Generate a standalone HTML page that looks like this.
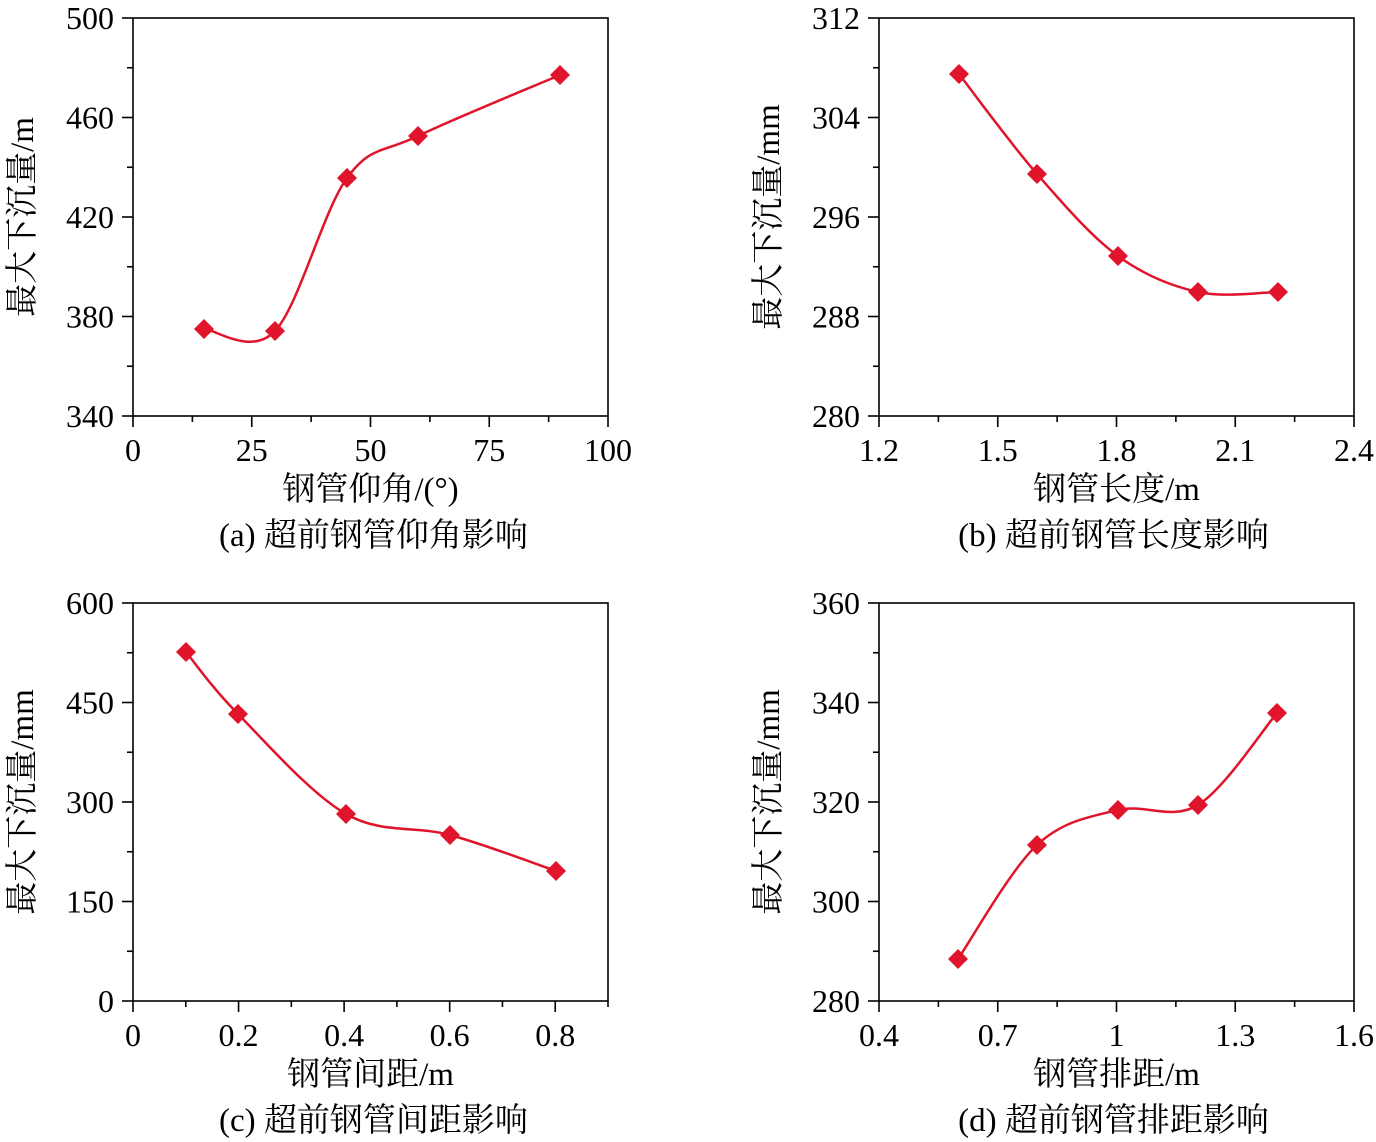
<!DOCTYPE html>
<html><head><meta charset="utf-8"><style>body{margin:0;background:#fff}svg{display:block}</style></head>
<body>
<svg id="s" width="1376" height="1142" xmlns="http://www.w3.org/2000/svg" font-family="'Liberation Serif','Noto Serif CJK SC',serif" fill="#000">
</svg>
<script>
const S=document.getElementById('s');
let h='';
const panels=[
 {dx:0,dy:0,yt:['340','380','420','460','500'],xt:['0','25','50','75','100'],xl:'钢管仰角/(°)',yl:'最大下沉量/m',cap:'(a) 超前钢管仰角影响',pts:[[204,329],[275,331],[347,178],[418,136],[560,75]]},
 {dx:746,dy:0,yt:['280','288','296','304','312'],xt:['1.2','1.5','1.8','2.1','2.4'],xl:'钢管长度/m',yl:'最大下沉量/mm',cap:'(b) 超前钢管长度影响',pts:[[959,74],[1037,174],[1118,256],[1198,292],[1278,292]]},
 {dx:0,dy:585,yt:['0','150','300','450','600'],xt:['0','0.2','0.4','0.6','0.8'],xl:'钢管间距/m',yl:'最大下沉量/mm',cap:'(c) 超前钢管间距影响',pts:[[186,652],[238,714],[346,814],[450,835],[556,871]],xminor:true},
 {dx:746,dy:585,yt:['280','300','320','340','360'],xt:['0.4','0.7','1','1.3','1.6'],xl:'钢管排距/m',yl:'最大下沉量/mm',cap:'(d) 超前钢管排距影响',pts:[[958,959],[1037,845],[1118,810],[1198,805],[1277,713]]}
];
for(const p of panels){
 const L=133+p.dx,R=608+p.dx,T=18+p.dy,B=416+p.dy;
 h+=`<rect x="${L}" y="${T}" width="${R-L}" height="${B-T}" fill="none" stroke="#000" stroke-width="1.6"/>`;
 for(let i=0;i<=8;i++){const y=B-(B-T)*i/8;const len=i%2?6:11;h+=`<line x1="${L-len}" y1="${y}" x2="${L}" y2="${y}" stroke="#000" stroke-width="1.6"/>`;}
 const n=p.xminor?9:8, step=p.xminor?(R-L)/9:(R-L)/8;
 for(let i=0;i<=n;i++){const x=L+step*i;const len=i%2?6:11;h+=`<line x1="${x}" y1="${B}" x2="${x}" y2="${B+len}" stroke="#000" stroke-width="1.6"/>`;}
 p.yt.forEach((t,i)=>{const y=B-(B-T)*i/4;h+=`<text x="${L-19}" y="${y+11}" font-size="32" text-anchor="end">${t}</text>`;});
 p.xt.forEach((t,i)=>{const x=L+step*2*i;h+=`<text x="${x}" y="${B+45}" font-size="32" text-anchor="middle">${t}</text>`;});
 h+=`<text x="${(L+R)/2}" y="${B+84}" font-size="33" text-anchor="middle">${p.xl}</text>`;
 h+=`<text transform="translate(${p.dx+33},${(T+B)/2}) rotate(-90)" font-size="33" text-anchor="middle">${p.yl}</text>`;
 h+=`<text x="${(L+R)/2-(p.dx?3:-3)}" y="${B+130}" font-size="33" text-anchor="middle">${p.cap}</text>`;
 const q=p.pts;let d=`M${q[0][0]},${q[0][1]}`;
 for(let i=0;i<q.length-1;i++){const p0=q[Math.max(i-1,0)],p1=q[i],p2=q[i+1],p3=q[Math.min(i+2,q.length-1)];
  const c1=[p1[0]+(p2[0]-p0[0])/6,p1[1]+(p2[1]-p0[1])/6],c2=[p2[0]-(p3[0]-p1[0])/6,p2[1]-(p3[1]-p1[1])/6];
  d+=` C${c1[0]},${c1[1]} ${c2[0]},${c2[1]} ${p2[0]},${p2[1]}`;}
 h+=`<path d="${d}" fill="none" stroke="#e0142a" stroke-width="2.5"/>`;
 for(const [x,y] of q)h+=`<polygon points="${x},${y-10} ${x+10},${y} ${x},${y+10} ${x-10},${y}" fill="#e0142a"/>`;
}
S.innerHTML=h;
</script>
</body></html>
